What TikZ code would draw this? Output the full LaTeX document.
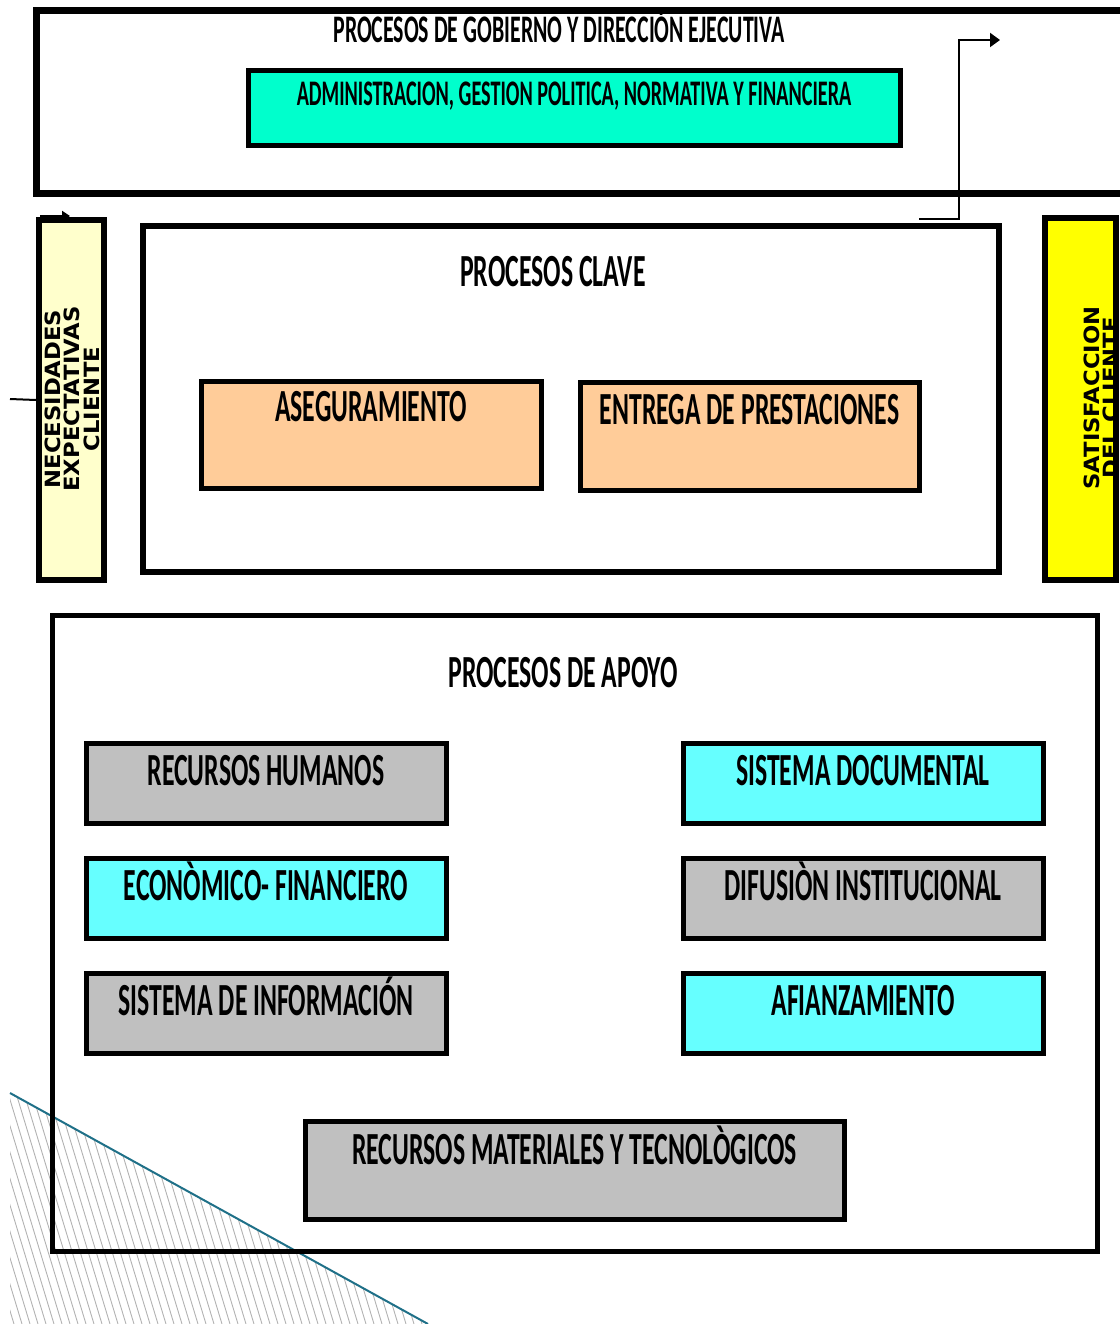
\documentclass[tikz,border=0pt]{standalone}
\usepackage{fontspec}
\newfontfamily\condfont[FakeStretch=0.56]{Carlito}
\newfontfamily\sidefont[FakeStretch=1.08]{DejaVu Sans}
\usetikzlibrary{arrows.meta}
\definecolor{admincyan}{HTML}{00FFCC}
\definecolor{lightcyan}{HTML}{66FFFF}
\definecolor{boxgray}{HTML}{C0C0C0}
\definecolor{peach}{HTML}{FFCC99}
\definecolor{paleyellow}{HTML}{FFFFCC}
\definecolor{satyellow}{HTML}{FFFF00}
\definecolor{hatchteal}{HTML}{1F7088}
\newcommand{\biglbl}{\condfont\bfseries\fontsize{46}{50}\selectfont}
\newcommand{\toplbl}{\condfont\bfseries\fontsize{39}{44}\selectfont}
\newcommand{\smalllbl}{\condfont\bfseries\fontsize{36}{40}\selectfont}
\newcommand{\sidelbl}{\sidefont\bfseries\fontsize{21}{19.5}\selectfont}
\begin{document}
\begin{tikzpicture}[x=1pt,y=-1pt,
  frame/.style={draw,line width=7pt,inner sep=0pt},
  sidebar/.style={draw,line width=6pt,inner sep=0pt,minimum width=66,minimum height=360},
  procbox/.style={draw,line width=5pt,inner sep=0pt,font=\biglbl},
  apbox/.style={procbox,minimum width=360,minimum height=80,text height=42,text depth=38},
  title/.style={anchor=base,inner sep=0pt},
  sidetext/.style={rotate=90,align=center,inner sep=0pt,font=\sidelbl},
  link/.style={line width=2pt},
  hatch/.style={gray!60,line width=0.9pt}]
\useasboundingbox (0,0) rectangle (1119,1324);
% hatched corner
\begin{scope}
\clip (10,1093) -- (428,1324) -- (10,1324) -- cycle;
\foreach \i in {-10,...,60} \draw[hatch] (\i*8,1093) -- ++(70,231);
\end{scope}
\draw[hatchteal,line width=2pt] (10,1093) -- (428,1324);
% gobierno
\node[frame,minimum width=1104,minimum height=183] (gob) at (588,102.5) {};
\node[title,font=\toplbl] (gobtit) at (559,43) {PROCESOS DE GOBIERNO Y DIRECCIÓN EJECUTIVA};
\node[procbox,fill=admincyan,font=\smalllbl,minimum width=652,minimum height=75,text height=35,text depth=40] (admin) at (574,108.5) {ADMINISTRACION, GESTION POLITICA, NORMATIVA Y FINANCIERA};
% clave
\node[frame,line width=6pt,minimum width=856,minimum height=346] (clave) at (571,399) {};
\node[title,font=\biglbl] (clavetit) at (553,287) {PROCESOS CLAVE};
\node[procbox,fill=peach,minimum width=340,minimum height=107,text height=40,text depth=67] (aseg) at (371,434.5) {ASEGURAMIENTO};
\node[procbox,fill=peach,minimum width=339,minimum height=108,text height=42,text depth=66] (entrega) at (749.5,436) {ENTREGA DE PRESTACIONES};
% cliente
\node[sidebar,fill=paleyellow,minimum width=65] (nec) at (71.5,400) {};
\node[sidetext] (nectxt) at (72,399) {NECESIDADES\\EXPECTATIVAS\\CLIENTE};
\node[sidebar,fill=satyellow,minimum width=71,minimum height=362,
  path picture={\node[sidetext] (sattxt) at ([xshift=21pt,yshift=1pt]path picture bounding box.center) {SATISFACCION\\DEL CLIENTE};}] (sat) at (1080.5,399) {};
\coordinate (inl) at (10,399);
\draw[link] (inl) -- (nec.west);
\coordinate (topin) at (40,216);
\draw[link,-{Triangle[length=8,width=10]}] (topin) -- (70,216);
\coordinate (outa) at (919,219);
\coordinate (outb) at (1000,40);
\draw[link,-{Triangle[length=10,width=14]}] (outa) -- (959,219) |- (outb);
% apoyo
\node[frame,line width=5pt,minimum width=1045,minimum height=636] (apoyo) at (574.5,933) {};
\node[title,font=\biglbl] (apoyotit) at (563,687) {PROCESOS DE APOYO};
\node[apbox,fill=boxgray] (rh) at (266,783) {RECURSOS HUMANOS};
\node[apbox,fill=lightcyan] (eco) at (266,898.5) {ECONÒMICO- FINANCIERO};
\node[apbox,fill=boxgray] (sinf) at (266,1013.5) {SISTEMA DE INFORMACIÓN};
\node[apbox,fill=lightcyan] (sdoc) at (863,783) {SISTEMA DOCUMENTAL};
\node[apbox,fill=boxgray] (dif) at (863,898.5) {DIFUSIÒN INSTITUCIONAL};
\node[apbox,fill=lightcyan] (afi) at (863,1013.5) {AFIANZAMIENTO};
\node[procbox,fill=boxgray,minimum width=539,minimum height=98,text height=43,text depth=55] (rmat) at (574.5,1170) {RECURSOS MATERIALES Y TECNOLÒGICOS};
\end{tikzpicture}
\end{document}
